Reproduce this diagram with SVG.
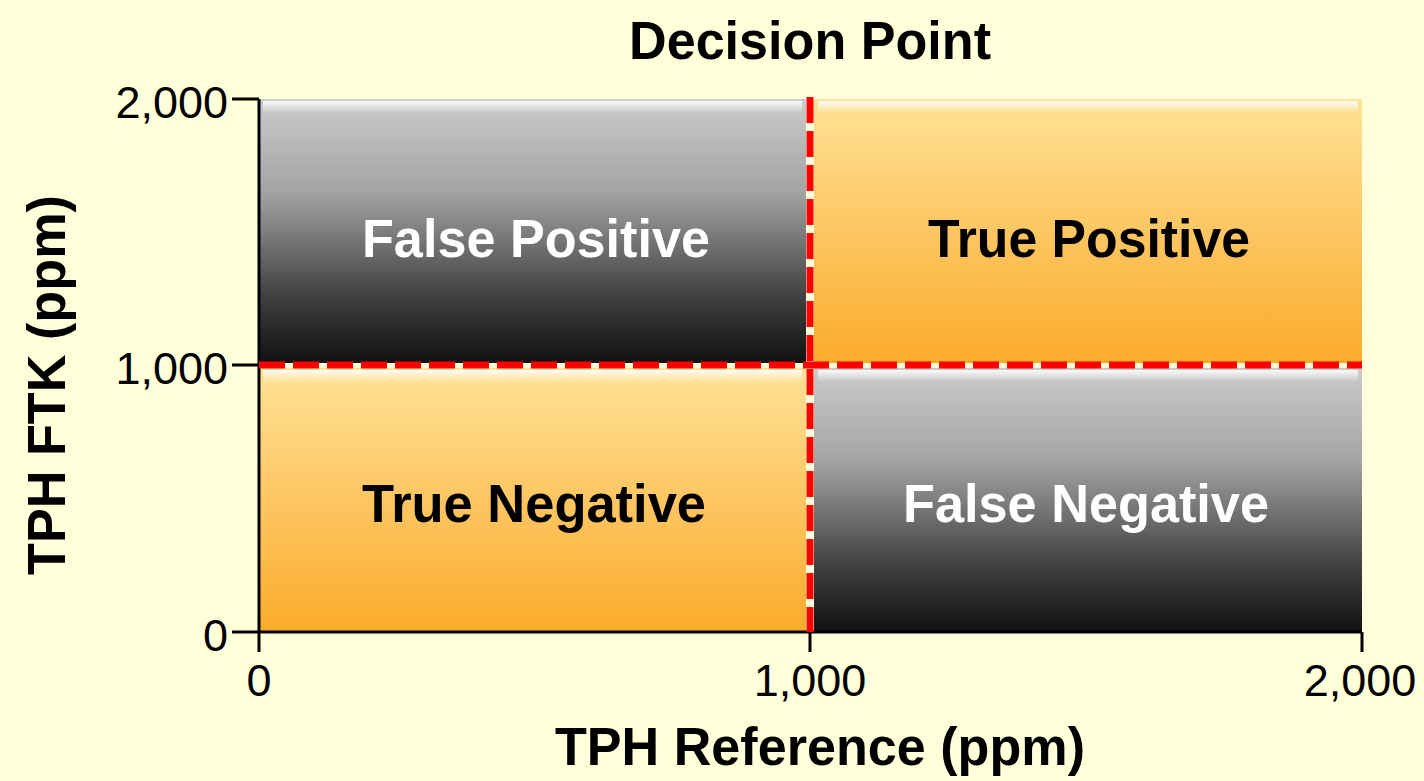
<svg xmlns="http://www.w3.org/2000/svg" width="1424" height="781" viewBox="0 0 1424 781">
<defs>
<linearGradient id="gray" x1="0" y1="0" x2="0" y2="1">
<stop offset="0" stop-color="#cbcbcb"/><stop offset="0.35" stop-color="#a4a4a4"/><stop offset="0.75" stop-color="#404040"/><stop offset="1" stop-color="#111"/>
</linearGradient>
<linearGradient id="orange" x1="0" y1="0" x2="0" y2="1">
<stop offset="0" stop-color="#ffe296"/><stop offset="0.5" stop-color="#fdc662"/><stop offset="1" stop-color="#fbab2a"/>
</linearGradient>
<linearGradient id="hl" x1="0" y1="0" x2="0" y2="1">
<stop offset="0" stop-color="#fff" stop-opacity="0.9"/><stop offset="1" stop-color="#fff" stop-opacity="0"/>
</linearGradient>
</defs>
<style>
.lbl{font-family:"Liberation Sans",Arial,sans-serif;font-size:45px;fill:#000}
.big{font-family:"Liberation Sans",Arial,sans-serif;font-weight:bold;font-size:54px}
.q{font-family:"Liberation Sans",Arial,sans-serif;font-size:54px;font-weight:bold}
.ax{stroke:#000;stroke-width:3;fill:none}
.dash{stroke:#ff0000;stroke-width:7;stroke-dasharray:26 8;fill:none}
.bevel{fill:url(#hl)}
</style>
<rect width="1424" height="781" fill="#ffffd9"/>
<text class="big" x="810" y="59" text-anchor="middle" textLength="362" lengthAdjust="spacingAndGlyphs">Decision Point</text>
<g id="fp">
<rect x="259" y="99" width="547" height="264" fill="url(#gray)"/>
<rect x="263" y="101" width="539" height="12" class="bevel"/>
<text class="q" x="536" y="257" text-anchor="middle" fill="#fff" textLength="348" lengthAdjust="spacingAndGlyphs">False Positive</text>
</g>
<g id="tp">
<rect x="814" y="99" width="548" height="264" fill="url(#orange)"/>
<rect x="818" y="101" width="540" height="12" class="bevel"/>
<text class="q" x="1089" y="257" text-anchor="middle" fill="#000" textLength="322" lengthAdjust="spacingAndGlyphs">True Positive</text>
</g>
<g id="tn">
<rect x="259" y="368" width="547" height="264" fill="url(#orange)"/>
<rect x="263" y="370" width="539" height="12" class="bevel"/>
<text class="q" x="534" y="522" text-anchor="middle" fill="#000" textLength="344" lengthAdjust="spacingAndGlyphs">True Negative</text>
</g>
<g id="fn">
<rect x="814" y="368" width="548" height="264" fill="url(#gray)"/>
<rect x="818" y="370" width="540" height="12" class="bevel"/>
<text class="q" x="1086" y="522" text-anchor="middle" fill="#fff" textLength="366" lengthAdjust="spacingAndGlyphs">False Negative</text>
</g>
<g id="axes">
<path class="ax" d="M259 99V632H1362M232 99H259M232 365H259M232 632H259M259 632V652M810 632V652M1362 632V652"/>
<text class="lbl" x="228" y="118" text-anchor="end">2,000</text>
<text class="lbl" x="228" y="384" text-anchor="end">1,000</text>
<text class="lbl" x="228" y="651" text-anchor="end">0</text>
<text class="lbl" x="259" y="696" text-anchor="middle">0</text>
<text class="lbl" x="810" y="696" text-anchor="middle">1,000</text>
<text class="lbl" x="1360" y="696" text-anchor="middle">2,000</text>
<text class="big" x="820" y="765" text-anchor="middle" textLength="530" lengthAdjust="spacingAndGlyphs">TPH Reference (ppm)</text>
<text class="big" transform="translate(65,385) rotate(-90)" text-anchor="middle" textLength="380" lengthAdjust="spacingAndGlyphs">TPH FTK (ppm)</text>
</g>
<g id="connectors">
<path class="dash" d="M810 97V632"/>
<path class="dash" d="M259 365H1362"/>
</g>
</svg>
